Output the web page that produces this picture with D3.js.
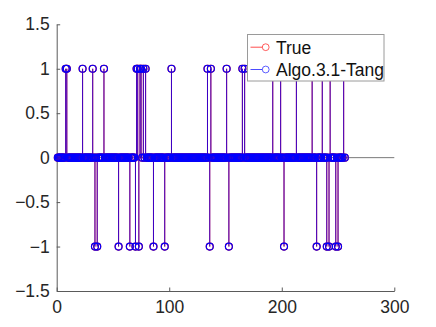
<!DOCTYPE html>
<html>
<head>
<meta charset="utf-8">
<script src="https://cdn.jsdelivr.net/npm/d3@7.9.0/dist/d3.min.js"></script>
<style>
  body { margin: 0; background: #fff; }
  text { font-family: "Liberation Sans", Arial, sans-serif; }
</style>
</head>
<body>
<svg width="436" height="327"></svg>
<script>
// signal length and nonzero entries
const N = 256;
const posIdx = [8, 9, 23, 32, 42, 71, 72, 74, 75, 77, 79, 102, 134, 137, 151, 165, 167,
                192, 199, 213, 227, 236, 243, 255];
const negIdx = [34, 36, 55, 65, 70, 73, 86, 96, 136, 153, 202, 231, 240, 242, 248, 250];
const xTicks = [0, 100, 200, 300];
const yTicks = [-1.5, -1, -0.5, 0, 0.5, 1, 1.5];
const seriesNames = ["True", "Algo.3.1-Tang"];

// recovered signal matches the true one
function buildSeries() {
  const vals = d3.range(1, N + 1).map(i => ({i, v: 0}));
  posIdx.forEach(i => vals[i - 1].v = 1);
  negIdx.forEach(i => vals[i - 1].v = -1);
  return vals;
}
const trueSig = buildSeries();
const algoSig = buildSeries();

const svg = d3.select("svg"),
      margin = {top: 24.3, right: 41.7, bottom: 36, left: 56.7},
      width = 436 - margin.left - margin.right,
      height = 327 - margin.top - margin.bottom,
      g = svg.append("g").attr("transform", `translate(${margin.left},${margin.top})`);

const x = d3.scaleLinear().domain([0, 300]).range([0, width]);
const y = d3.scaleLinear().domain([-1.5, 1.5]).range([height, 0]);

const axisColor = "#5a5a5a";

// axes
const xAxis = g.append("g").attr("transform", `translate(0,${height})`)
  .call(d3.axisBottom(x).tickValues(xTicks).tickSizeInner(-3.5).tickSizeOuter(0).tickPadding(9));
const yAxis = g.append("g")
  .call(d3.axisLeft(y).tickValues(yTicks).tickSizeInner(-3.5).tickSizeOuter(0).tickPadding(7)
        .tickFormat(d => d3.format("")(d)));

[xAxis, yAxis].forEach(a => {
  a.select(".domain").attr("stroke", axisColor);
  a.selectAll(".tick line").attr("stroke", axisColor);
  a.selectAll(".tick text").attr("fill", "#262626").style("font-size", "17.5px");
});
xAxis.selectAll(".tick text").attr("dy", "0.72em");

// stem baseline
g.append("line")
  .attr("x1", x(0)).attr("x2", x(300))
  .attr("y1", y(0)).attr("y2", y(0))
  .attr("stroke", "#7a7a7a").attr("stroke-width", 1);

const colors = {tru: "#ff0000", algo: "#0000ff"};

function drawStems(data, color, opacity) {
  g.append("g").selectAll("line")
    .data(data.filter(d => d.v !== 0))
    .join("line")
    .attr("x1", d => x(d.i)).attr("x2", d => x(d.i))
    .attr("y1", y(0)).attr("y2", d => y(d.v))
    .attr("stroke", color).attr("stroke-opacity", opacity).attr("stroke-width", 1);
}
function drawMarkers(data, color) {
  g.append("g").selectAll("circle")
    .data(data)
    .join("circle")
    .attr("cx", d => x(d.i)).attr("cy", d => y(d.v))
    .attr("r", 3.5)
    .attr("fill", "none")
    .attr("stroke", color).attr("stroke-width", 1.15);
}

drawStems(trueSig, colors.tru, 1);
drawMarkers(trueSig, colors.tru);
drawStems(algoSig, colors.algo, 0.78);
drawMarkers(algoSig, colors.algo);

// legend
const lg = svg.append("g").attr("transform", "translate(247.5,34.5)");
lg.append("rect").attr("width", 136.5).attr("height", 46.5)
  .attr("fill", "#fff").attr("stroke", "#9a9a9a").attr("stroke-width", 1);
[colors.tru, colors.algo].forEach((c, k) => {
  const cy = 12.7 + k * 22.3;
  lg.append("line").attr("x1", 3).attr("x2", 21).attr("y1", cy).attr("y2", cy)
    .attr("stroke", c).attr("stroke-opacity", 0.7);
  lg.append("circle").attr("cx", 18.2).attr("cy", cy).attr("r", 3.4)
    .attr("fill", "#fff").attr("stroke", c).attr("stroke-opacity", 0.7).attr("stroke-width", 0.9);
  lg.append("text").attr("x", 28.5).attr("y", cy).attr("dy", "0.36em")
    .attr("fill", "#111").style("font-size", "17.5px").text(seriesNames[k]);
});
</script>
</body>
</html>
